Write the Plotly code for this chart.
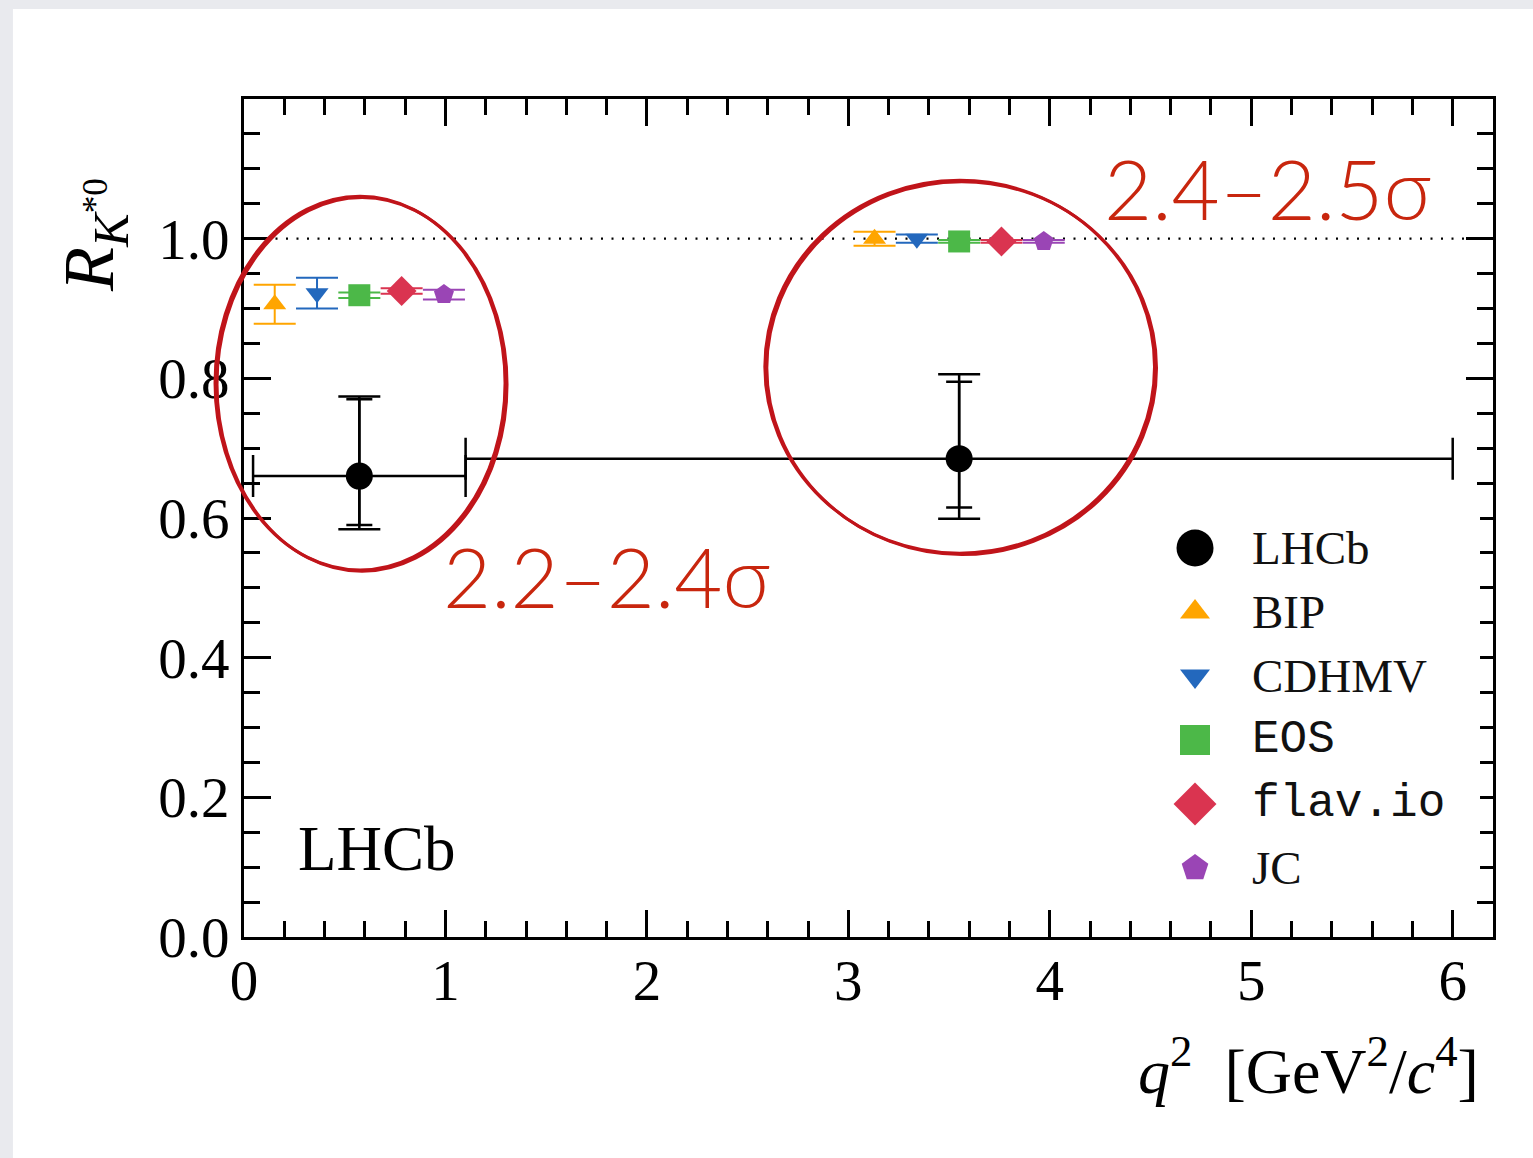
import plotly.graph_objects as go

# q^2 bins [GeV^2/c^4]
q2_lo = [0.045, 1.1]
q2_hi = [1.1, 6.0]

# LHCb measurement of R_K*0
lhcb_val = [0.66, 0.685]
lhcb_stat_up = [0.11, 0.11]
lhcb_stat_dn = [0.07, 0.07]
lhcb_tot_up = [0.114, 0.121]
lhcb_tot_dn = [0.076, 0.086]

# SM predictions per bin
model_names = ["BIP", "CDHMV", "EOS", "flav.io", "JC"]
bip_val = [0.906, 1.000]
bip_err = [0.028, 0.010]
cdhmv_val = [0.922, 1.000]
cdhmv_err = [0.022, 0.006]
eos_val = [0.919, 0.996]
eos_err = [0.004, 0.002]
flavio_val = [0.925, 0.996]
flavio_err = [0.004, 0.002]
jc_val = [0.920, 0.996]
jc_err = [0.007, 0.002]

sigma_labels = ["2.2\u20132.4\u03c3", "2.4\u20132.5\u03c3"]

model_vals = [bip_val, cdhmv_val, eos_val, flavio_val, jc_val]
model_errs = [bip_err, cdhmv_err, eos_err, flavio_err, jc_err]
model_colors = ["#ffa500", "#2368bd", "#4cb848", "#da3450", "#9a45b5"]
model_symbols = ["triangle-up", "triangle-down", "square", "diamond", "pentagon"]
model_sizes = [20, 20, 22, 23, 21]
model_legend_sizes = [26, 26, 30, 33, 28]
model_shift = [-0.42, -0.21, 0.0, 0.21, 0.42]

SERIF = "Liberation Serif"
MONO = "Liberation Mono"
RED = "#c0141a"

centers = [(a + b) / 2 for a, b in zip(q2_lo, q2_hi)]
half_w = [(b - a) / 2 for a, b in zip(q2_lo, q2_hi)]

fig = go.Figure()

# reference line at R = 1
fig.add_shape(type="line", xref="x", yref="y", x0=0, x1=6.2, y0=1.0, y1=1.0,
              line=dict(color="black", width=2.2, dash="2px,8.5px"), layer="below")

# LHCb total uncertainty (wide caps)
fig.add_trace(go.Scatter(
    x=centers, y=lhcb_val, mode="markers",
    marker=dict(size=1, color="rgba(0,0,0,0)"),
    error_y=dict(type="data", symmetric=False, array=lhcb_tot_up,
                 arrayminus=lhcb_tot_dn, width=21, thickness=2.5, color="black"),
    showlegend=False, hoverinfo="skip"))

# LHCb statistical uncertainty + bin width
fig.add_trace(go.Scatter(
    x=centers, y=lhcb_val, mode="markers", name="LHCb",
    marker=dict(size=27, color="black", symbol="circle", opacity=1),
    error_y=dict(type="data", symmetric=False, array=lhcb_stat_up,
                 arrayminus=lhcb_stat_dn, width=13, thickness=2.5, color="black"),
    error_x=dict(type="data", array=half_w, width=21, thickness=2.5, color="black"),
    showlegend=False))

# theory predictions, shifted within each bin
for name, vals, errs, col, sym, sz, dx in zip(model_names, model_vals, model_errs,
                                              model_colors, model_symbols, model_sizes,
                                              model_shift):
    fig.add_trace(go.Scatter(
        x=[c + dx for c in centers], y=vals, mode="markers", name=name,
        marker=dict(size=sz, color=col, symbol=sym, opacity=1, line=dict(width=0)),
        error_y=dict(type="data", array=errs, width=21, thickness=2, color=col),
        showlegend=False))

# hand-made legend on its own hidden axes
legend_names = ["LHCb"] + model_names
legend_colors = ["black"] + model_colors
legend_symbols = ["circle"] + model_symbols
legend_sizes = [37] + model_legend_sizes
legend_fonts = [SERIF, SERIF, SERIF, MONO, MONO, SERIF]
rows = list(range(len(legend_names)))
fig.add_trace(go.Scatter(
    x=[45] * len(rows), y=rows, mode="markers", xaxis="x2", yaxis="y2",
    marker=dict(size=legend_sizes, color=legend_colors, symbol=legend_symbols,
                opacity=1, line=dict(width=0)),
    showlegend=False, hoverinfo="skip"))
for r, nm, fnt in zip(rows, legend_names, legend_fonts):
    fig.add_annotation(x=100, y=r, xref="x2", yref="y2", text=nm, showarrow=False,
                       xanchor="left", yanchor="middle",
                       font=dict(family=fnt, size=47 if fnt == SERIF else 46, color="#111111"))

# experiment label
fig.add_annotation(x=0.042, y=0.105, xref="paper", yref="paper", text="LHCb",
                   showarrow=False, xanchor="left", yanchor="middle",
                   font=dict(family=SERIF, size=63, color="black"))

# axis titles
fig.add_annotation(x=0.99, y=-0.155, xref="paper", yref="paper",
                   text="<i>q</i><sup>2</sup>  [GeV<sup>2</sup>/<i>c</i><sup>4</sup>]",
                   showarrow=False, xanchor="right", yanchor="middle",
                   font=dict(family=SERIF, size=64, color="black"))
fig.add_annotation(x=-0.12, y=0.838, xref="paper", yref="paper",
                   text="<i>R</i><sub><i>K</i><sup>*0</sup></sub>",
                   showarrow=False, textangle=-90, xanchor="center", yanchor="middle",
                   font=dict(family=SERIF, size=72, color="black"))

# highlighted regions
ellipses = [(-0.0232, 0.209, 0.438, 0.884), (0.417, 0.729, 0.458, 0.903)]
for x0, x1, y0, y1 in ellipses:
    for d in (0.0, 0.0016):
        fig.add_shape(type="circle", xref="paper", yref="paper",
                      x0=x0 + d, x1=x1 + d, y0=y0 - d, y1=y1 - d,
                      line=dict(color=RED, width=3), layer="above")

sigma_pos = [(0.158, 0.431), (0.687, 0.894)]
for (px, py), lab in zip(sigma_pos, sigma_labels):
    fig.add_annotation(x=px, y=py, xref="paper", yref="paper", text=lab,
                       showarrow=False, xanchor="left", yanchor="middle",
                       font=dict(family="Lato", size=83, color="#c8260e", weight=300))

# slide card background
fig.add_shape(type="rect", xref="paper", yref="paper",
              x0=-0.185, x1=1.05, y0=-0.3, y1=1.1074,
              fillcolor="white", line=dict(width=0), layer="below")

axis_common = dict(showline=True, linewidth=3, linecolor="black", mirror="ticks",
                   ticks="inside", tickwidth=2.5, tickcolor="black", ticklen=27,
                   showgrid=False, zeroline=False,
                   tickfont=dict(family=SERIF, size=57, color="black"))

fig.update_layout(
    width=1533, height=1158,
    margin=dict(l=244, r=40, t=99, b=221),
    paper_bgcolor="#e9eaee", plot_bgcolor="white",
    showlegend=False,
    xaxis=dict(range=[0, 6.2], tickvals=[0, 1, 2, 3, 4, 5, 6],
               minor=dict(dtick=0.2, tick0=0, ticks="inside", ticklen=16,
                          tickwidth=2.5, tickcolor="black"),
               ticklabelstandoff=-8, **axis_common),
    yaxis=dict(range=[0, 1.2], tickvals=[0, 0.2, 0.4, 0.6, 0.8, 1.0], tickformat=".1f",
               minor=dict(dtick=0.05, tick0=0, ticks="inside", ticklen=16,
                          tickwidth=2.5, tickcolor="black"),
               ticklabelstandoff=0, **axis_common),
    xaxis2=dict(domain=[0.7254, 0.9896], range=[0, 330], visible=False,
                anchor="y2", fixedrange=True),
    yaxis2=dict(domain=[0.04415, 0.5024], range=[5.5, -0.5], visible=False,
                anchor="x2", fixedrange=True),
)

fig.write_html("out.html")
